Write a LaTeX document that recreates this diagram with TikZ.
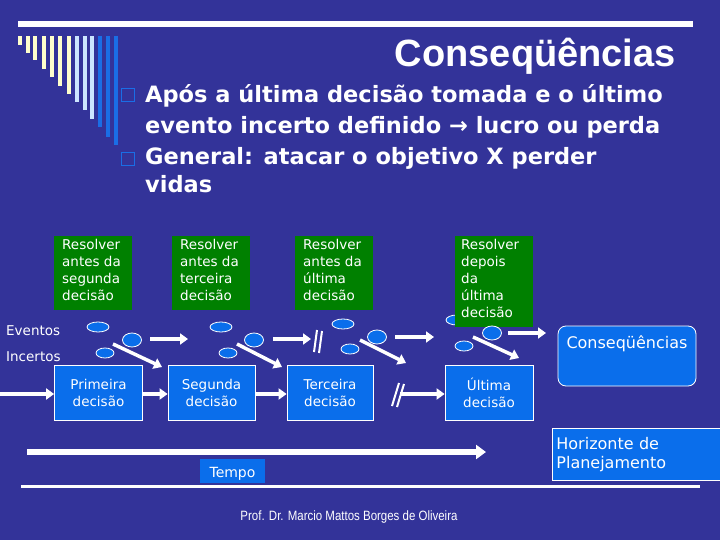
\documentclass[tikz,border=0pt]{standalone}
\usepackage{fontspec}
\setmainfont{DejaVu Sans}
\newfontfamily\arialf{Liberation Sans}
\newfontfamily\narrowf[FakeStretch=0.85]{Liberation Sans}
\usetikzlibrary{arrows.meta,shapes.geometric}
\definecolor{bg}{HTML}{333399}
\definecolor{gr}{HTML}{008000}
\definecolor{bl}{HTML}{0A6EEB}
\definecolor{cream}{HTML}{FFFFCC}
\definecolor{lb}{HTML}{CCE5FF}
\definecolor{sb}{HTML}{1A6EE6}
\begin{document}
\begin{tikzpicture}[x=1pt,y=-1pt,
  greenbox/.style={fill=gr,text=white,anchor=north west,align=left,inner sep=0pt,font=\fontsize{13.5}{17}\selectfont},
  decbox/.style={fill=bl,draw=white,line width=0.8pt,text=white,align=center,font=\fontsize{13.5}{17}\selectfont},
  ev/.style={ellipse,fill=bl,draw=white,line width=0.8pt,inner sep=0pt},
  warr/.style={white,line width=3.5pt,-{Triangle[length=8pt,width=11pt]}},
  brk/.style={white,line width=2pt}]
\useasboundingbox (0,0) rectangle (720,540);
\fill[bg] (0,0) rectangle (720,540);
% top bar
\fill[white] (18,21) rectangle (693,27);
% stripes
\foreach \x/\b/\c in {18/45/cream,26/53/cream,33/60/cream,42/69/cream,50/77/cream,58/86/cream,67/94/cream,75/102/lb,83/110/lb,90/119/lb,98/127/sb,106/137/sb,114/145/sb}
  \fill[\c] (\x,36) rectangle ++(4,\b-36);
% title
\node[anchor=south east,text=white,inner sep=0pt,font=\arialf\bfseries\fontsize{38}{38}\selectfont] (title) at (676,75) {Conseqüências};
% bullets
\draw[sb,line width=1pt] (121,89) rectangle (134,102);
\draw[sb,line width=1pt] (121,153) rectangle (134,166);
\node[anchor=north west,text=white,align=left,inner sep=0pt,font=\bfseries\fontsize{22.5}{31}\selectfont] (b1) at (145,84) {Após a última decisão tomada e o último\\evento incerto definido → lucro ou perda};
\node[anchor=north west,text=white,align=left,inner sep=0pt,font=\bfseries\fontsize{22.5}{28}\selectfont] (b2) at (145,147) {General: atacar o objetivo X perder\\vidas};
% green boxes
\fill[gr] (54,236) rectangle (132,310);
\fill[gr] (172,236) rectangle (250,310);
\fill[gr] (295,236) rectangle (373,310);
\fill[gr] (455,236) rectangle (533,327);
% ellipses group 4 (one under green box)
\node[ev,minimum width=22pt,minimum height=10pt] (e41) at (457,320) {};
\node[greenbox] (g1) at (62,239) {Resolver\\antes da\\segunda\\decisão};
\node[greenbox] (g2) at (180,239) {Resolver\\antes da\\terceira\\decisão};
\node[greenbox] (g3) at (303,239) {Resolver\\antes da\\última\\decisão};
\fill[gr] (455,310) rectangle (533,327);
\node[greenbox] (g4) at (461,239) {Resolver\\depois\\da\\última\\decisão};
% labels
\node[anchor=west,text=white,inner sep=0pt,font=\fontsize{13.5}{15}\selectfont] (ev1) at (6,331) {Eventos};
\node[anchor=west,text=white,inner sep=0pt,font=\fontsize{13.5}{15}\selectfont] (ev2) at (6,357) {Incertos};
% ellipses
\node[ev,minimum width=22pt,minimum height=10pt] (e11) at (98,327) {};
\node[ev,minimum width=19pt,minimum height=14pt] (e12) at (132,340) {};
\node[ev,minimum width=18pt,minimum height=10pt] (e13) at (105,353) {};
\node[ev,minimum width=22pt,minimum height=10pt] (e21) at (221,327) {};
\node[ev,minimum width=19pt,minimum height=14pt] (e22) at (254,340) {};
\node[ev,minimum width=18pt,minimum height=10pt] (e23) at (228,353) {};
\node[ev,minimum width=22pt,minimum height=10pt] (e31) at (343,324) {};
\node[ev,minimum width=19pt,minimum height=14pt] (e32) at (377,337) {};
\node[ev,minimum width=18pt,minimum height=10pt] (e33) at (350,349) {};
\node[ev,minimum width=19pt,minimum height=14pt] (e42) at (492,333) {};
\node[ev,minimum width=18pt,minimum height=10pt] (e43) at (464,346) {};
% decision boxes
\node[decbox,minimum width=88pt,minimum height=55pt] (d1) at (98.5,392.5) {Primeira\\decisão};
\node[decbox,minimum width=87pt,minimum height=55pt] (d2) at (211.5,392.5) {Segunda\\decisão};
\node[decbox,minimum width=86pt,minimum height=55pt] (d3) at (330,392.5) {Terceira\\decisão};
\node[decbox,minimum width=88pt,minimum height=55pt] (d4) at (489,392.5) {Última\\decisão};
\node[fill=bl,draw=white,line width=0.8pt,rounded corners=8pt,minimum width=138pt,minimum height=60pt,text=white,font=\fontsize{16}{18}\selectfont,text depth=28pt,inner sep=2pt] (cons) at (627,356) {Conseqüências};
% event arrows
\coordinate (a1s) at (113,344); \coordinate (a1e) at (162,367);
\coordinate (h1s) at (150,339); \coordinate (h1e) at (188,339);
\coordinate (a2s) at (237,344); \coordinate (a2e) at (282,367);
\coordinate (h2s) at (273,339); \coordinate (h2e) at (311,339);
\coordinate (a3s) at (360,340); \coordinate (a3e) at (406,363);
\coordinate (h3s) at (395,337); \coordinate (h3e) at (434,337);
\coordinate (a4s) at (473,337); \coordinate (a4e) at (519,358);
\coordinate (h4s) at (508,333); \coordinate (h4e) at (546,333);
\draw[warr] (a1s) -- (a1e);
\draw[warr] (h1s) -- (h1e);
\draw[warr] (a2s) -- (a2e);
\draw[warr] (h2s) -- (h2e);
\draw[warr] (a3s) -- (a3e);
\draw[warr] (h3s) -- (h3e);
\draw[warr] (a4s) -- (a4e);
\draw[warr] (h4s) -- (h4e);
\draw[brk] (314,352) -- (317,330);
\draw[brk] (319,353) -- (322,331);
% decision arrows
\coordinate (in0) at (0,394);
\draw[warr] (in0) -- (d1.west |- in0);
\draw[warr] (d1.east |- in0) -- (d2.west |- in0);
\draw[warr] (d2.east |- in0) -- (d3.west |- in0);
\coordinate (bk) at (400,394);
\draw[warr] (bk) -- (d4.west |- bk);
\draw[brk] (392,406) -- (399,383);
\draw[brk] (397,407) -- (404,384);
% time
\coordinate (t0) at (27,452); \coordinate (t1) at (486,452);
\draw[white,line width=6pt,-{Triangle[length=10pt,width=14pt]}] (t0) -- (t1);
\node[fill=bl,text=white,minimum width=65pt,minimum height=24pt,inner sep=0pt,text depth=0pt,font=\fontsize{14}{16}\selectfont] (tempo) at (232.5,471) {\raisebox{-3pt}{Tempo}};
\node[fill=bl,draw=white,line width=0.8pt,anchor=north west,minimum width=168pt,minimum height=52pt,text width=160pt,align=left,inner sep=4pt,text=white,font=\fontsize{16}{19}\selectfont] (hor) at (552,428) {Horizonte de\\Planejamento};
\fill[white] (21,485) rectangle (700,487.5);
\node[text=white,inner sep=0pt,font=\narrowf\fontsize{13.5}{15}\selectfont] (foot) at (349,517) {Prof. Dr. Marcio Mattos Borges de Oliveira};
\end{tikzpicture}
\end{document}
